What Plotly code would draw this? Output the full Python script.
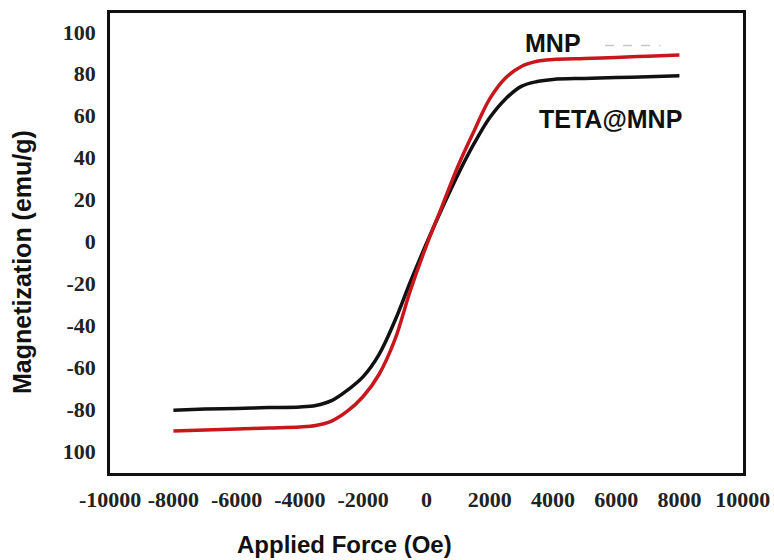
import plotly.graph_objects as go

# Applied field (Oe)
field = [-8000, -7000, -6000, -5000, -4000, -3500, -3000, -2500, -2000, -1500, -1000, -500,
         0, 500, 1000, 1500, 2000, 2500, 3000, 3500, 4000, 5000, 6000, 7000, 8000]

# Magnetization (emu/g)
mnp = [-90.5, -90.0, -89.5, -89.0, -88.5, -87.8, -85.7, -81.0, -74.0, -63.5, -47.0, -23.0,
       -2.0, 17.0, 36.0, 52.5, 68.0, 78.0, 83.5, 86.0, 86.8, 87.3, 87.8, 88.4, 89.0]
teta_mnp = [-80.5, -80.0, -79.7, -79.3, -79.0, -78.3, -76.0, -71.0, -64.5, -54.0, -38.0, -19.0,
            -1.0, 16.0, 32.0, 46.5, 59.0, 68.0, 74.0, 76.3, 77.3, 77.8, 78.2, 78.6, 79.0]

x_tick_vals = [-10000, -8000, -6000, -4000, -2000, 0, 2000, 4000, 6000, 8000, 10000]
x_tick_text = ["-10000", "-8000", "-6000", "-4000", "-2000", "0", "2000", "4000", "6000", "8000", "10000"]
y_tick_vals = [100, 80, 60, 40, 20, 0, -20, -40, -60, -80, -100]
y_tick_text = ["100", "80", "60", "40", "20", "0", "-20", "-40", "-60", "-80", "100"]

tick_font = dict(family="Liberation Serif, Times New Roman, serif", size=22,
                 color="#222", weight="bold")
label_font = dict(family="Liberation Sans, Arial, sans-serif", size=25, color="#111")
title_font = dict(family="Liberation Sans, Arial, sans-serif", size=24, color="#111")

fig = go.Figure()
fig.add_trace(go.Scatter(x=field, y=teta_mnp, mode="lines", name="TETA@MNP",
                         line=dict(color="#111111", width=3.5, shape="spline", smoothing=1.0)))
fig.add_trace(go.Scatter(x=field, y=mnp, mode="lines", name="MNP",
                         line=dict(color="#c8161d", width=3.5, shape="spline", smoothing=1.0)))

fig.update_layout(
    width=774, height=560,
    margin=dict(l=110, r=31, t=13, b=87),
    paper_bgcolor="white", plot_bgcolor="white",
    showlegend=False,
    xaxis=dict(range=[-10005, 10010], tickvals=x_tick_vals, ticktext=x_tick_text,
               showgrid=False, zeroline=False, showline=True, mirror=True,
               linecolor="#111", linewidth=2.5, ticks="", tickfont=tick_font,
               ticklabelstandoff=5, automargin=False),
    yaxis=dict(range=[-110.5, 109], tickvals=y_tick_vals, ticktext=y_tick_text,
               showgrid=False, zeroline=False, showline=True, mirror=True,
               linecolor="#111", linewidth=2.5, ticks="", tickfont=tick_font,
               ticklabelstandoff=7, automargin=False),
    annotations=[
        dict(text="<b>Applied Force (Oe)</b>", xref="paper", yref="paper",
             x=0.371, y=-0.155, xanchor="center", yanchor="middle",
             showarrow=False, font=title_font),
        dict(text="<b>Magnetization (emu/g)</b>", xref="paper", yref="paper",
             x=-0.139, y=0.4587, xanchor="center", yanchor="middle", textangle=-90,
             showarrow=False, font=label_font),
        dict(text="<b>MNP</b>", xref="x", yref="y", x=4006, y=94.8,
             xanchor="center", yanchor="middle", showarrow=False, font=label_font),
        dict(text="<b>TETA@MNP</b>", xref="x", yref="y", x=5836, y=58.6,
             xanchor="center", yanchor="middle", showarrow=False, font=label_font),
    ],
    shapes=[
        dict(type="line", xref="x", yref="y", x0=5650, x1=7400, y0=93.5, y1=93.5,
             line=dict(color="#c8c8c8", width=1.5, dash="dash")),
    ],
)

fig.write_html("out.html", config={"displayModeBar": False},
               post_script="document.body.style.margin='0';document.body.style.overflow='hidden';")
